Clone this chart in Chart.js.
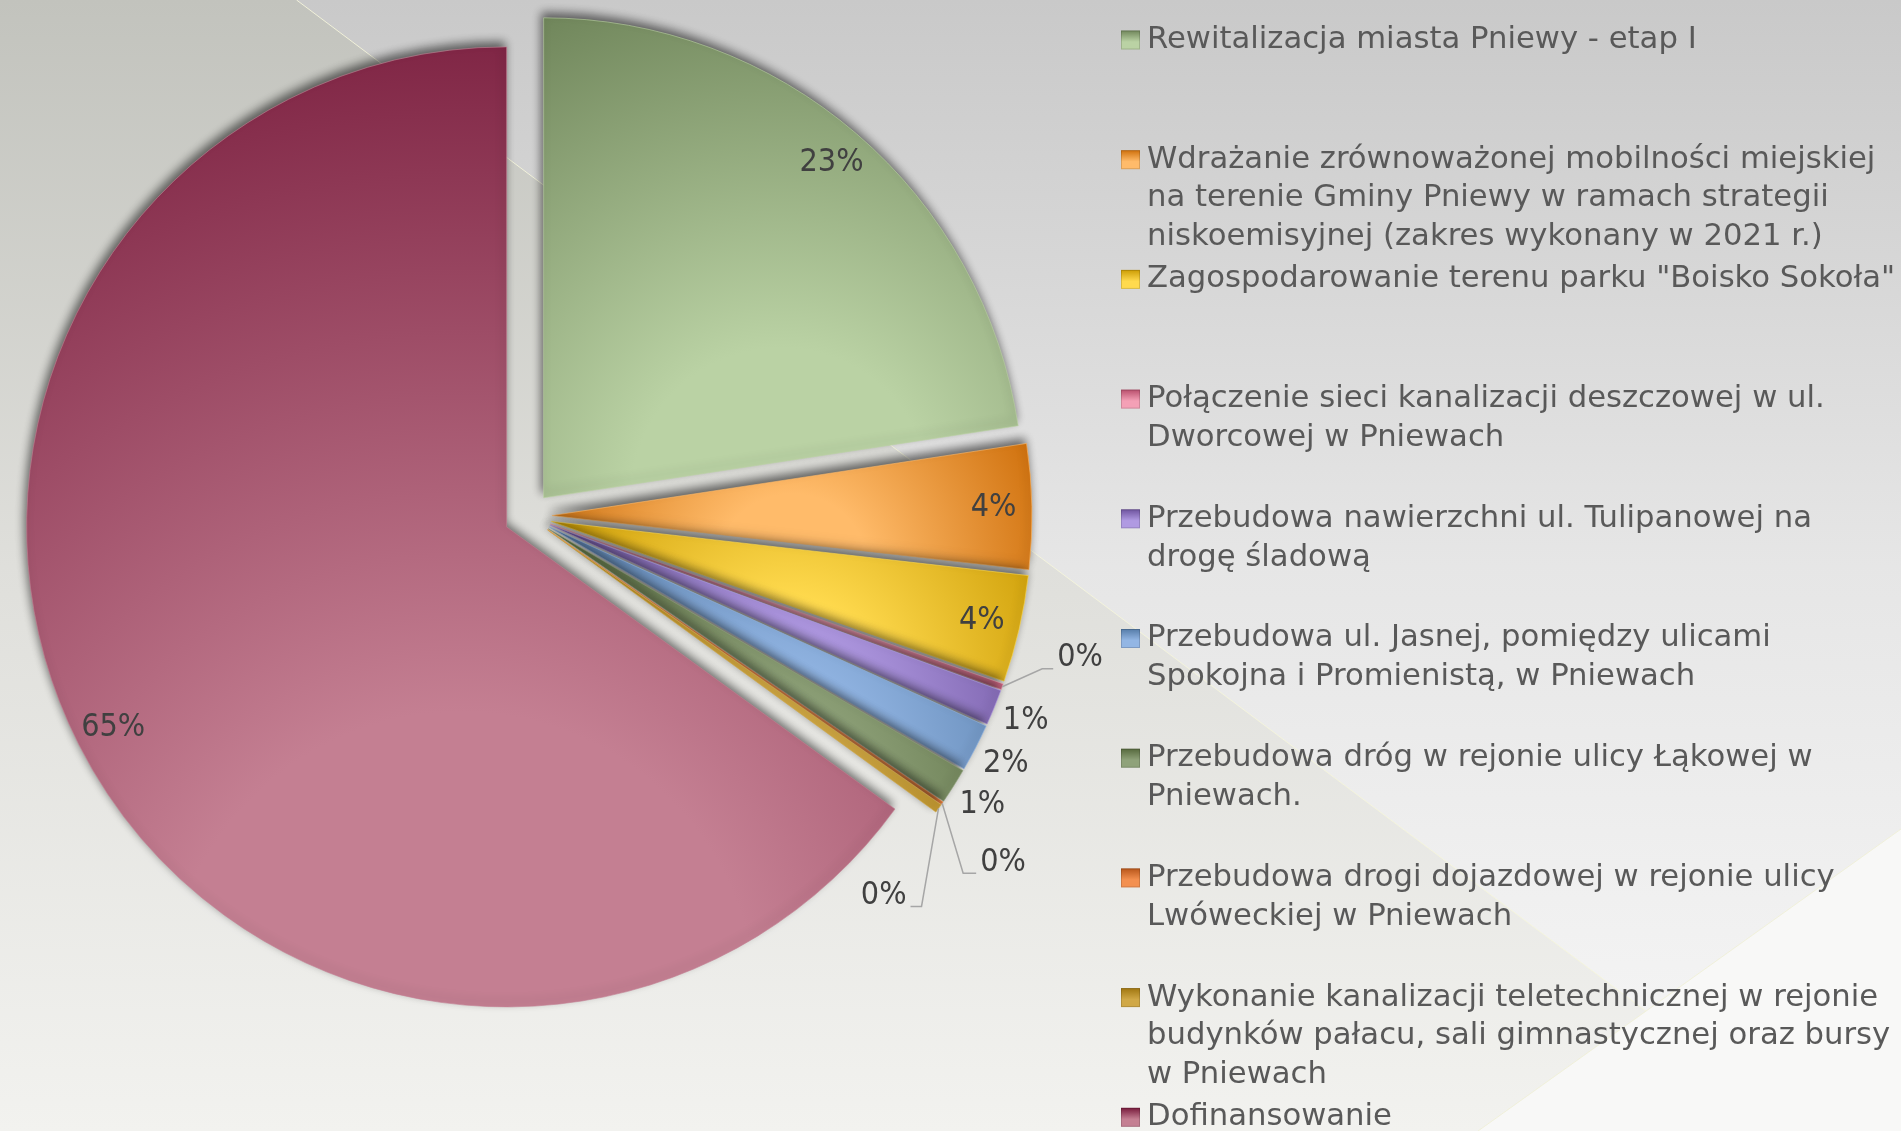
<!DOCTYPE html>
<html><head><meta charset="utf-8">
<script src="https://cdn.jsdelivr.net/npm/chart.js@4/dist/chart.umd.min.js"></script>
<style>html,body{margin:0;padding:0;background:#fff;overflow:hidden}canvas{display:block}</style>
</head><body>
<canvas id="c" width="1901" height="1131"></canvas>
<script>
// ---------- DATA ----------
const CATEGORIES = [
  ['Rewitalizacja miasta Pniewy - etap I'],
  ['Wdrażanie zrównoważonej mobilności miejskiej', 'na terenie Gminy Pniewy w ramach strategii', 'niskoemisyjnej (zakres wykonany w 2021 r.)'],
  ['Zagospodarowanie terenu parku "Boisko Sokoła"'],
  ['Połączenie sieci kanalizacji deszczowej w ul.', 'Dworcowej w Pniewach'],
  ['Przebudowa nawierzchni ul. Tulipanowej na', 'drogę śladową'],
  ['Przebudowa ul. Jasnej, pomiędzy ulicami', 'Spokojna i Promienistą, w Pniewach'],
  ['Przebudowa dróg w rejonie ulicy Łąkowej w', 'Pniewach.'],
  ['Przebudowa drogi dojazdowej w rejonie ulicy', 'Lwóweckiej w Pniewach'],
  ['Wykonanie kanalizacji teletechnicznej w rejonie', 'budynków pałacu, sali gimnastycznej oraz bursy', 'w Pniewach'],
  ['Dofinansowanie']
];
// share of total (percent)
const SHARES = [22.6, 4.2, 3.6, 0.2, 1.2, 1.6, 1.2, 0.1, 0.3, 65.0];

// ---------- STYLE ----------
const LIGHT = ['#bad2a4', '#ffbb6a', '#ffda4e', '#f4a0b6', '#b09ae2', '#93b6e4', '#8fa27a', '#f39050', '#d0a846', '#c47f92'];
const DARK  = ['#70865b', '#cf700c', '#cc9c05', '#b84e6c', '#6e539e', '#567ca8', '#56693d', '#b8561a', '#a07610', '#771a3b'];
const EXPLODE = 24, RADIUS = 480;
const LABEL_FONT = "32px 'DejaVu Sans Condensed', 'DejaVu Sans', sans-serif";
const LEGEND_FONT = "30.7px 'DejaVu Sans', sans-serif";
const INSIDE_MIN_PCT = 3, LABEL_IN_R = 0.92, LABEL_OUT_GAP = 34;
const CALLOUTS = {3: {dx: 40, dy: -18, run: 11}, 7: {dx: 21, dy: 70, run: 13}, 8: {dx: -17, dy: 98, run: -11}};
const LEGEND = {x: 1121, top: 40, pitch: 119.7, line: 38.8, box: 19, textGap: 7};

function sliceGeom(chart, i) {
  const ca = chart.chartArea;
  const cx = (ca.left + ca.right) / 2, cy = (ca.top + ca.bottom) / 2;
  const data = chart.data.datasets[0].data;
  const total = data.reduce((s, v) => s + v, 0);
  let before = 0; for (let k = 0; k < i; k++) before += data[k];
  const a0 = -Math.PI / 2 + before / total * 2 * Math.PI;
  const a1 = a0 + data[i] / total * 2 * Math.PI;
  return {cx, cy, a0, a1};
}
function sliceFill(context) {
  const chart = context.chart, i = context.dataIndex;
  if (!chart.chartArea) return LIGHT[i];
  const {cx, cy, a0, a1} = sliceGeom(chart, i);
  const pts = [[0, 0], [Math.cos(a0), Math.sin(a0)], [Math.cos(a1), Math.sin(a1)]];
  for (let k = -1; k <= 3; k++) { const a = k * Math.PI / 2; if (a > a0 && a < a1) pts.push([Math.cos(a), Math.sin(a)]); }
  const xs = pts.map(p => cx + p[0] * RADIUS), ys = pts.map(p => cy + p[1] * RADIUS);
  const minX = Math.min(...xs), maxX = Math.max(...xs), minY = Math.min(...ys), maxY = Math.max(...ys);
  const gx = (minX + maxX) / 2, gy = maxY;
  const rad = Math.max(Math.hypot(minX - gx, minY - gy), Math.hypot(maxX - gx, minY - gy), 1);
  const g = chart.ctx.createRadialGradient(gx, gy, 0, gx, gy, rad);
  g.addColorStop(0, LIGHT[i]); g.addColorStop(0.28, LIGHT[i]); g.addColorStop(1, DARK[i]);
  return g;
}

const backgroundPlugin = {
  id: 'bg',
  beforeDraw(chart) {
    const {ctx, width: W, height: H} = chart;
    ctx.save();
    let g = ctx.createLinearGradient(0, 0, 0, H);
    g.addColorStop(0, '#c9c9c9'); g.addColorStop(0.5, '#e6e6e6'); g.addColorStop(1, '#f7f7f7');
    ctx.fillStyle = g; ctx.fillRect(0, 0, W, H);
    ctx.beginPath(); ctx.moveTo(0, 0); ctx.lineTo(0.156 * W, 0); ctx.lineTo(0.95 * W, H); ctx.lineTo(0, H); ctx.closePath();
    g = ctx.createLinearGradient(0, 0, 0, H);
    g.addColorStop(0, '#c2c3bd'); g.addColorStop(0.5, '#dfdfdb'); g.addColorStop(1, '#f2f2ef');
    ctx.fillStyle = g; ctx.fill();
    ctx.beginPath(); ctx.moveTo(0.156 * W, 0); ctx.lineTo(0.95 * W, H);
    ctx.strokeStyle = 'rgba(245,245,220,0.9)'; ctx.lineWidth = 1; ctx.stroke();
    ctx.beginPath(); ctx.moveTo(W, 0.733 * H); ctx.lineTo(0.7775 * W, H); ctx.lineTo(W, H); ctx.closePath();
    ctx.fillStyle = '#f8f8f7'; ctx.fill();
    ctx.beginPath(); ctx.moveTo(W, 0.733 * H); ctx.lineTo(0.7775 * W, H);
    ctx.strokeStyle = 'rgba(240,240,215,0.9)'; ctx.stroke();
    ctx.restore();
  }
};

const explodePlugin = {
  id: 'explode',
  beforeDatasetDraw(chart, args) {
    const ctx = chart.ctx;
    args.meta.data.forEach(arc => {
      const h = (arc.startAngle + arc.endAngle) / 2;
      ctx.save();
      ctx.shadowColor = 'rgba(0,0,0,0.55)';
      ctx.shadowBlur = 10;
      ctx.shadowOffsetX = -2;
      ctx.shadowOffsetY = -5;
      ctx.translate(Math.cos(h) * EXPLODE, Math.sin(h) * EXPLODE);
      arc.draw(ctx);
      ctx.restore();
    });
    return false;
  }
};

const labelPlugin = {
  id: 'pctLabels',
  afterDatasetsDraw(chart) {
    const ctx = chart.ctx;
    const meta = chart.getDatasetMeta(0);
    const data = chart.data.datasets[0].data;
    const total = data.reduce((s, v) => s + v, 0);
    ctx.save();
    ctx.font = LABEL_FONT; ctx.fillStyle = '#404040'; ctx.textBaseline = 'middle';
    meta.data.forEach((arc, i) => {
      const pct = Math.round(data[i] / total * 100);
      const h = (arc.startAngle + arc.endAngle) / 2;
      const c = Math.cos(h), s = Math.sin(h);
      const ax = arc.x + c * EXPLODE, ay = arc.y + s * EXPLODE;
      const R = arc.outerRadius, txt = pct + '%';
      if (CALLOUTS[i]) {
        const co = CALLOUTS[i];
        const sx = ax + c * R, sy = ay + s * R;
        const ex = sx + co.dx, ey = sy + co.dy, fx = ex + co.run;
        ctx.beginPath(); ctx.moveTo(sx, sy); ctx.lineTo(ex, ey); ctx.lineTo(fx, ey);
        ctx.strokeStyle = '#a6a6a6'; ctx.lineWidth = 1.5; ctx.stroke();
        ctx.textAlign = co.run >= 0 ? 'left' : 'right';
        ctx.fillText(txt, fx + (co.run >= 0 ? 4 : -4), ey - 11);
      } else if (pct >= INSIDE_MIN_PCT) {
        ctx.textAlign = 'center';
        ctx.fillText(txt, ax + c * R * LABEL_IN_R, ay + s * R * LABEL_IN_R);
      } else {
        ctx.textAlign = 'center';
        ctx.fillText(txt, ax + c * (R + LABEL_OUT_GAP), ay + s * (R + LABEL_OUT_GAP));
      }
    });
    ctx.restore();
  }
};

const legendPlugin = {
  id: 'sideLegend',
  afterDraw(chart) {
    const ctx = chart.ctx;
    ctx.save();
    ctx.font = LEGEND_FONT; ctx.textBaseline = 'middle'; ctx.textAlign = 'left';
    chart.data.labels.forEach((lines, i) => {
      const y0 = LEGEND.top + i * LEGEND.pitch;
      const bx = LEGEND.x, by = y0 - LEGEND.box / 2;
      const g = ctx.createLinearGradient(0, by, 0, by + LEGEND.box);
      g.addColorStop(0, DARK[i]); g.addColorStop(0.6, LIGHT[i]); g.addColorStop(1, LIGHT[i]);
      ctx.fillStyle = g; ctx.fillRect(bx, by, LEGEND.box, LEGEND.box);
      ctx.strokeStyle = 'rgba(0,0,0,0.15)'; ctx.lineWidth = 1; ctx.strokeRect(bx + 0.5, by + 0.5, LEGEND.box - 1, LEGEND.box - 1);
      ctx.fillStyle = '#595959';
      lines.forEach((t, j) => ctx.fillText(t, bx + LEGEND.box + LEGEND.textGap, y0 + j * LEGEND.line));
    });
    ctx.restore();
  }
};

new Chart(document.getElementById('c'), {
  type: 'pie',
  data: {
    labels: CATEGORIES,
    datasets: [{
      data: SHARES,
      backgroundColor: sliceFill,
      borderColor: LIGHT.map(c => c + '99'),
      borderWidth: 1,
      offset: 0,
      radius: RADIUS
    }]
  },
  options: {
    responsive: false,
    animation: false,
    events: [],
    layout: {padding: {left: 0, top: 0, right: 845, bottom: 99}},
    plugins: {legend: {display: false}, tooltip: {enabled: false}, title: {display: false}}
  },
  plugins: [backgroundPlugin, explodePlugin, labelPlugin, legendPlugin]
});
</script>
</body></html>
